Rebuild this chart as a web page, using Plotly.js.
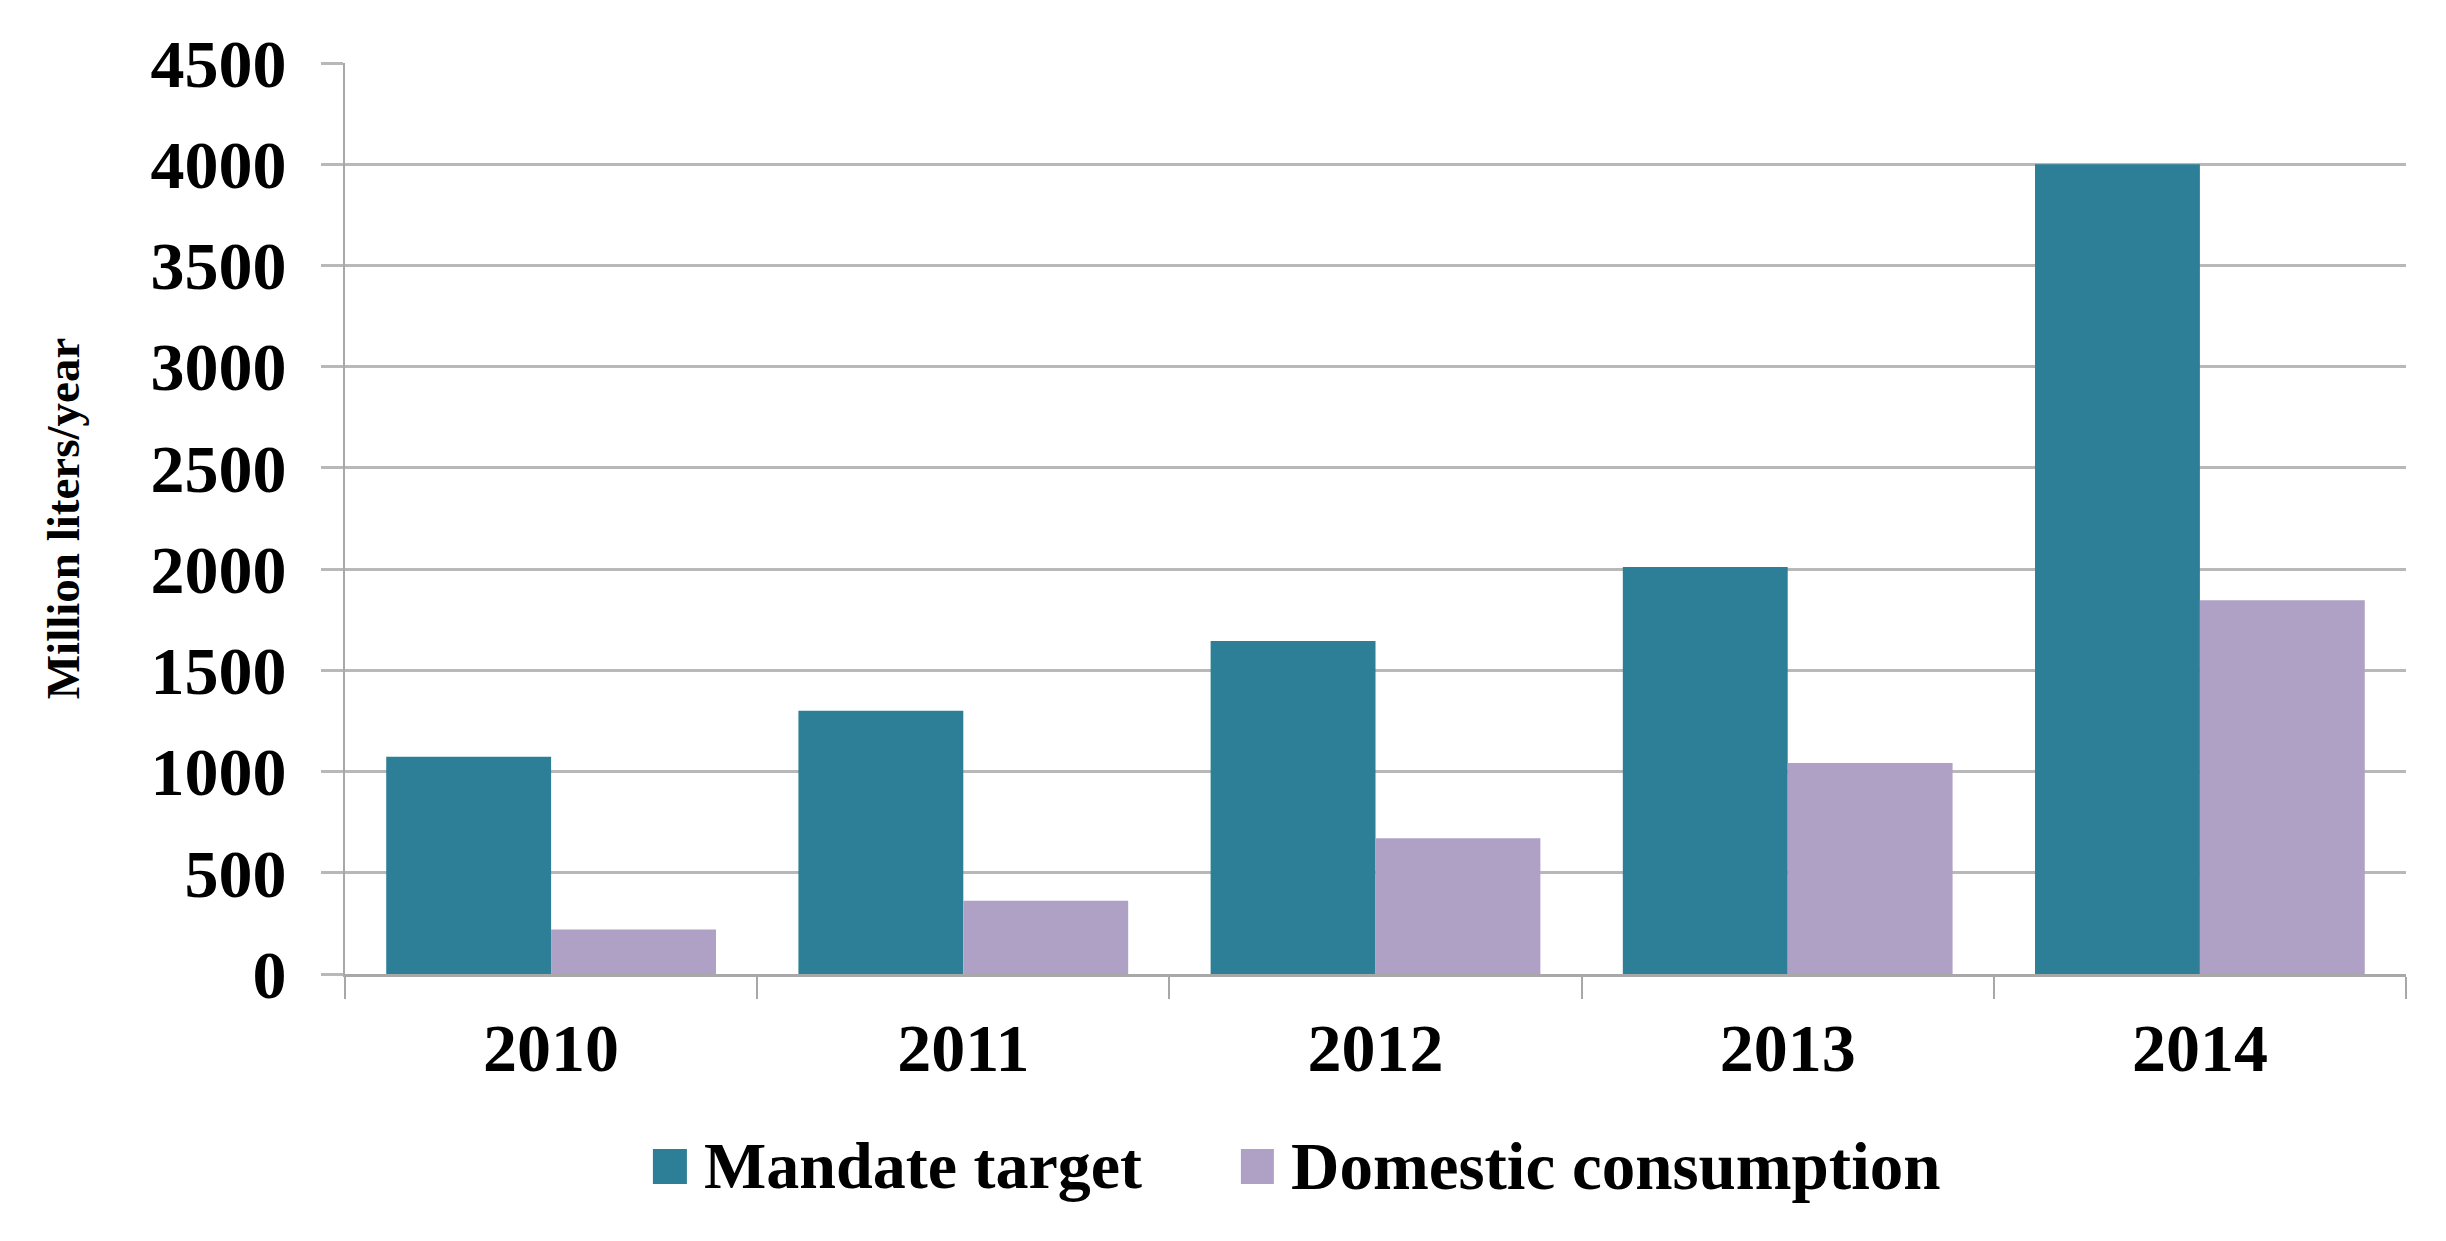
<!DOCTYPE html>
<html>
<head>
<meta charset="utf-8">
<script src="https://cdn.plot.ly/plotly-3.0.1.min.js"></script>
<style>html,body{margin:0;padding:0;background:#fff;}#chart{width:2446px;height:1241px;}</style>
</head>
<body>
<div id="chart"></div>
<script>
const years = ['2010', '2011', '2012', '2013', '2014'];
const mandateName = 'Mandate target';
const mandateValues = [1073, 1300, 1645, 2010, 4000];
const domesticName = 'Domestic consumption';
const domesticValues = [220, 362, 670, 1042, 1846];
const yTicks = [0, 500, 1000, 1500, 2000, 2500, 3000, 3500, 4000, 4500];
const yTitle = 'Million liters/year';

const tealColor = '#2C7F96';
const purpleColor = '#AFA0C6';
const gridColor = '#B8B8B8';
const fontFam = 'Liberation Serif, Times New Roman, serif';

const traces = [
  {type: 'bar', name: mandateName, x: years, y: mandateValues,
   marker: {color: tealColor, line: {width: 0}}, hoverinfo: 'skip'},
  {type: 'bar', name: domesticName, x: years, y: domesticValues,
   marker: {color: purpleColor, line: {width: 0}}, hoverinfo: 'skip'}
];

const layout = {
  width: 2446, height: 1241,
  margin: {l: 345, r: 40, t: 63, b: 267},
  paper_bgcolor: '#ffffff', plot_bgcolor: '#ffffff',
  barmode: 'group', bargap: 0.2, bargroupgap: 0,
  showlegend: false,
  font: {family: fontFam, color: '#000000', size: 68, weight: 'bold'},
  xaxis: {
    type: 'category',
    tickson: 'boundaries',
    ticks: 'outside', ticklen: 22, tickwidth: 2, tickcolor: '#A8A8A8',
    showline: true, linecolor: '#A8A8A8', linewidth: 3,
    showgrid: false, zeroline: false,
    tickfont: {family: fontFam, size: 68, color: '#000000', weight: 'bold'},
    ticklabelstandoff: 12,
    fixedrange: true
  },
  yaxis: {
    range: [0, 4500],
    tickvals: yTicks,
    ticktext: yTicks.map(String),
    ticks: 'outside', ticklen: 22, tickwidth: 3, tickcolor: '#B8B8B8',
    showline: true, linecolor: '#A8A8A8', linewidth: 2,
    showgrid: true, gridcolor: gridColor, gridwidth: 3,
    zeroline: false,
    tickfont: {family: fontFam, size: 68, color: '#000000', weight: 'bold'},
    ticklabelstandoff: 21,
    title: {text: yTitle, font: {family: fontFam, size: 47, color: '#000000', weight: 'bold'}, standoff: 56},
    automargin: false,
    fixedrange: true
  },
  shapes: [
    {type: 'rect', xref: 'paper', yref: 'paper', x0: 0.1494, x1: 0.1659, y0: -0.2304, y1: -0.192,
     fillcolor: tealColor, line: {width: 0}},
    {type: 'rect', xref: 'paper', yref: 'paper', x0: 0.4347, x1: 0.4507, y0: -0.2304, y1: -0.192,
     fillcolor: purpleColor, line: {width: 0}}
  ],
  annotations: [
    {xref: 'paper', yref: 'paper', x: 0.173, y: -0.2107, xanchor: 'left', yanchor: 'middle',
     text: mandateName, showarrow: false,
     font: {family: fontFam, size: 66, color: '#000000', weight: 'bold'}},
    {xref: 'paper', yref: 'paper', x: 0.458, y: -0.2107, xanchor: 'left', yanchor: 'middle',
     text: domesticName, showarrow: false,
     font: {family: fontFam, size: 67, color: '#000000', weight: 'bold'}}
  ]
};

Plotly.newPlot('chart', traces, layout, {displayModeBar: false, staticPlot: true});
</script>
</body>
</html>
